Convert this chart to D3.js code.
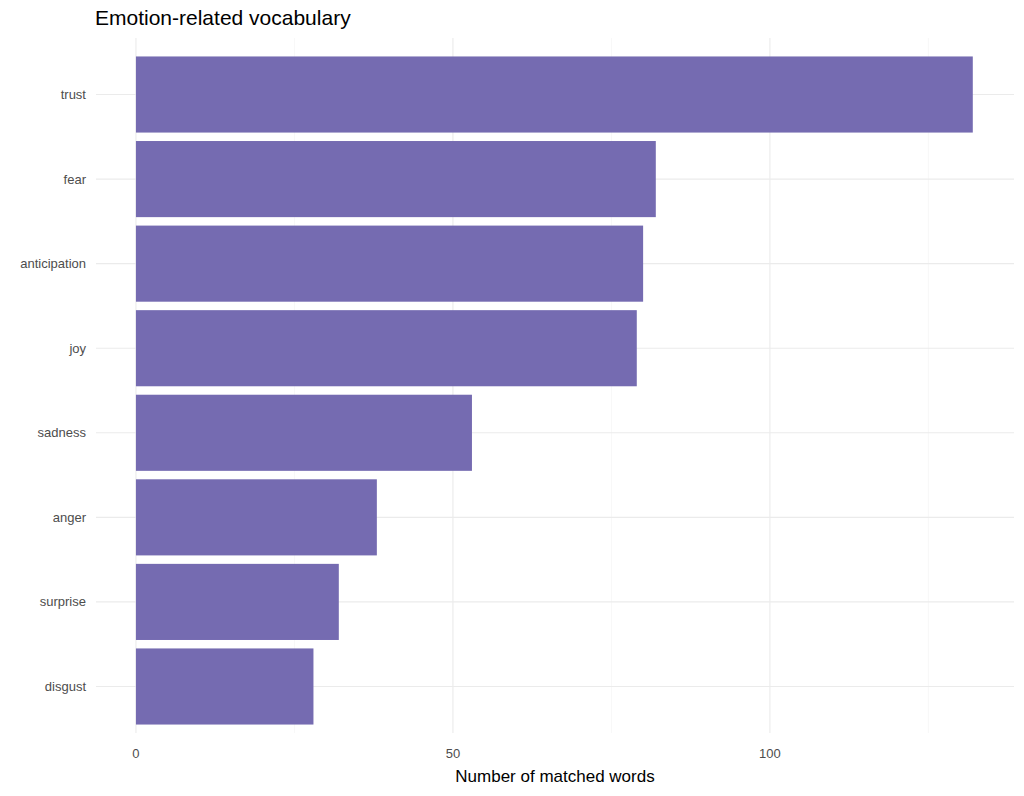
<!DOCTYPE html>
<html><head><meta charset="utf-8">
<script src="https://cdn.jsdelivr.net/npm/d3@7"></script>
<style>body{margin:0;background:#fff;font-family:Arial,"Liberation Sans",sans-serif}</style>
</head><body>
<svg id="chart" width="1024" height="796"></svg>
<script>
// emotion categories, top to bottom
var emotions = ["trust","fear","anticipation","joy","sadness","anger","surprise","disgust"];
var counts = [132, 82, 80, 79, 53, 38, 32, 28];
var xTicks = [0, 50, 100];
var xMinor = [25, 75, 125];

var svg = d3.select("#chart");
var panelLeft = 96, panelRight = 1014, panelTop = 48, panelBottom = 733;

var x = d3.scaleLinear().domain([-6.3, 138.5]).range([panelLeft, panelRight]);
var y = d3.scaleBand().domain(emotions).range([panelTop, panelBottom]).padding(0.1);

// minor grid
svg.selectAll(".minor").data(xMinor).enter().append("line")
  .attr("x1", function(d) { return x(d); }).attr("x2", function(d) { return x(d); })
  .attr("y1", panelTop - 10).attr("y2", panelBottom)
  .attr("stroke", "#f2f2f2").attr("stroke-width", 0.6);

// major grid
svg.selectAll(".major").data(xTicks).enter().append("line")
  .attr("x1", function(d) { return x(d); }).attr("x2", function(d) { return x(d); })
  .attr("y1", panelTop - 10).attr("y2", panelBottom)
  .attr("stroke", "#ebebeb").attr("stroke-width", 1.1);
svg.selectAll(".ygrid").data(emotions).enter().append("line")
  .attr("x1", panelLeft).attr("x2", panelRight)
  .attr("y1", function(d) { return y(d) + y.bandwidth() / 2; })
  .attr("y2", function(d) { return y(d) + y.bandwidth() / 2; })
  .attr("stroke", "#ebebeb").attr("stroke-width", 1.1);

// bars
svg.selectAll(".bar").data(emotions).enter().append("rect")
  .attr("x", x(0))
  .attr("y", function(d) { return y(d); })
  .attr("width", function(d, i) { return x(counts[i]) - x(0); })
  .attr("height", y.bandwidth())
  .attr("fill", "#756bb1");

// axis labels
svg.selectAll(".ylab").data(emotions).enter().append("text")
  .attr("x", 86).attr("y", function(d) { return y(d) + y.bandwidth() / 2; })
  .attr("dy", "0.35em").attr("text-anchor", "end")
  .attr("font-size", 13).attr("fill", "#4d4d4d").text(function(d) { return d; });
svg.selectAll(".xlab").data(xTicks).enter().append("text")
  .attr("x", function(d) { return x(d); }).attr("y", 758)
  .attr("text-anchor", "middle").attr("font-size", 13).attr("fill", "#4d4d4d")
  .text(function(d) { return d; });

svg.append("text").attr("x", (panelLeft + panelRight) / 2).attr("y", 782)
  .attr("text-anchor", "middle").attr("font-size", 17).attr("fill", "#000")
  .text("Number of matched words");
svg.append("text").attr("x", 95).attr("y", 25)
  .attr("font-size", 21).attr("fill", "#000")
  .text("Emotion-related vocabulary");
</script>
</body></html>
